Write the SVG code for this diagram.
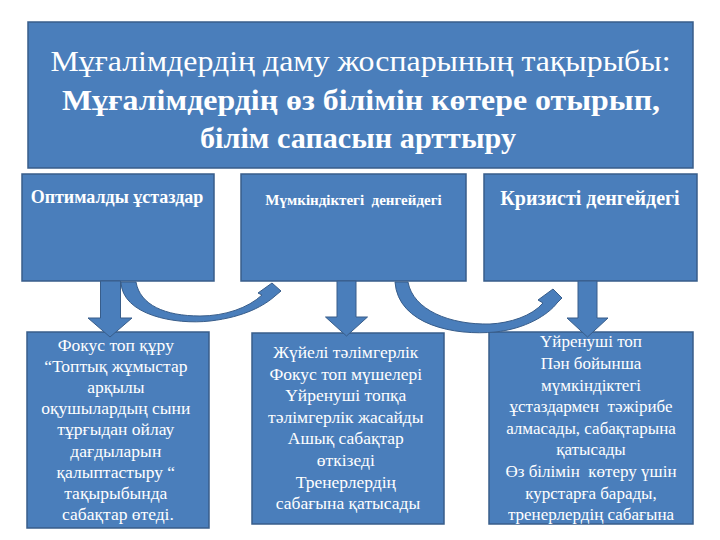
<svg xmlns="http://www.w3.org/2000/svg" width="720" height="540" viewBox="0 0 720 540">
<style>
.box{fill:#4A7EBB;stroke:#385D8A;stroke-width:1.5}
.arr{fill:#4A7EBB;stroke:#385D8A;stroke-width:1}
text{fill:#FFFFFF;text-anchor:middle}
.t1{font-size:29px}
.tb{font-size:29px;font-weight:bold}
.h{font-weight:bold}
.b{font-size:17.5px}
.c{font-size:17px}
</style>
<rect width="720" height="540" fill="#FFFFFF"/>
<g font-family="Liberation Serif, Times New Roman, serif">
<g id="title">
<rect class="box" x="28" y="22" width="665" height="146"/>
<text class="t1" x="360.5" y="71" textLength="620" lengthAdjust="spacingAndGlyphs">Мұғалімдердің даму жоспарының тақырыбы:</text>
<text class="tb" x="361" y="110" textLength="598" lengthAdjust="spacingAndGlyphs">Мұғалімдердің өз білімін көтере отырып,</text>
<text class="tb" x="358" y="148" textLength="316" lengthAdjust="spacingAndGlyphs">білім сапасын арттыру</text>
</g>
<g id="optimal">
<rect class="box" x="22" y="174" width="192" height="107"/>
<text class="h" x="117" y="203" font-size="18">Оптималды ұстаздар</text>
</g>
<g id="possible">
<rect class="box" x="241" y="174" width="225" height="107"/>
<text class="h" x="353.5" y="205" font-size="15" xml:space="preserve">Мүмкіндіктегі  денгейдегі</text>
</g>
<g id="crisis">
<rect class="box" x="484" y="174" width="213" height="107"/>
<text class="h" x="590" y="205" font-size="20">Кризисті денгейдегі</text>
</g>
<g id="focus">
<rect class="box" x="27" y="332" width="182" height="196"/>
<text class="b" x="118">
<tspan x="118" y="350.5">Фокус топ құру</tspan>
<tspan x="118" y="371.7">“Топтық жұмыстар</tspan>
<tspan x="118" y="392.9">арқылы</tspan>
<tspan x="118" y="414.1">оқушылардың сыни</tspan>
<tspan x="118" y="435.3">тұрғыдан ойлау</tspan>
<tspan x="118" y="456.5">дағдыларын</tspan>
<tspan x="118" y="477.7">қалыптастыру “</tspan>
<tspan x="118" y="498.9">тақырыбында</tspan>
<tspan x="118" y="520.1">сабақтар өтеді.</tspan>
</text>
</g>
<g id="mentoring">
<rect class="box" x="252" y="333" width="192" height="191"/>
<text class="b" x="348">
<tspan x="348" y="358">Жүйелі тәлімгерлік</tspan>
<tspan x="348" y="379.6">Фокус топ мүшелері</tspan>
<tspan x="348" y="401.2">Үйренуші топқа</tspan>
<tspan x="348" y="422.8">тәлімгерлік жасайды</tspan>
<tspan x="348" y="444.4">Ашық сабақтар</tspan>
<tspan x="348" y="466">өткізеді</tspan>
<tspan x="348" y="487.6">Тренерлердің</tspan>
<tspan x="348" y="509.2">сабағына қатысады</tspan>
</text>
</g>
<g id="learning">
<rect class="box" x="489" y="332" width="204" height="192"/>
<text class="c" x="591" xml:space="preserve"><tspan x="591" y="347.3">Үйренуші топ</tspan><tspan x="591" y="368.9">Пән бойынша</tspan><tspan x="591" y="390.5">мүмкіндіктегі</tspan><tspan x="591" y="412.1">ұстаздармен  тәжірибе</tspan><tspan x="591" y="433.7">алмасады, сабақтарына</tspan><tspan x="591" y="455.3">қатысады</tspan><tspan x="591" y="476.9">Өз білімін  көтеру үшін</tspan><tspan x="591" y="498.5">курстарға барады,</tspan><tspan x="591" y="520.1">тренерлердің сабағына</tspan></text>
</g>
</g>
<g id="connectors">
<polygon class="arr" points="100.5,281 120.5,281 120.5,318 132,318 110,337 88,318 100.5,318"/>
<polygon class="arr" points="337,281 356,281 356,317 367.5,317 346.5,336 325.5,317 337,317"/>
<polygon class="arr" points="578,281 597,281 597,318 608,318 587.5,337 567,318 578,318"/>
<path class="arr" d="M121,282 C122,315 175,325 210,321 C245,317 265,305 275,296 L281,291 L272,283 L258,293 L262,295 C248,308 225,316 200,316 C165,316 140,305 136,282 Z"/>
<path class="arr" d="M395,282 C398,325 455,336 495,332 C525,329 548,315 557,303 L562,298 L553,289 L538,300 L543,303 C532,316 510,323 490,324 C450,325 413,310 408,282 Z"/>
</g>
</svg>
